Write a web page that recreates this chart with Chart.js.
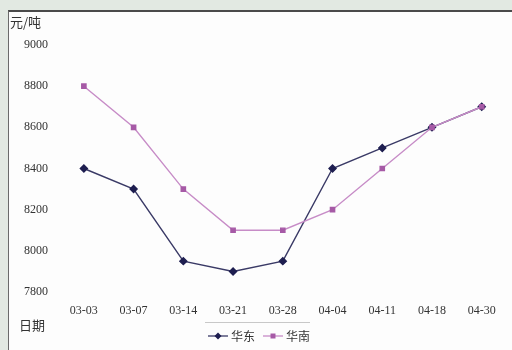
<!DOCTYPE html>
<html>
<head>
<meta charset="utf-8">
<script src="https://cdn.jsdelivr.net/npm/chart.js@4/dist/chart.umd.min.js"></script>
<style>
    html, body { margin: 0; padding: 0; }
    body { width: 512px; height: 350px; background: #e2e9e2; position: relative; overflow: hidden; }
    .panel {
        position: absolute; left: 8px; top: 10px; width: 504px; height: 340px;
        background: #fdfdfd; border-top: 2px solid #4a4a4a; border-left: 1px solid #6a6a6a;
        box-sizing: border-box;
    }
    #chart { position: absolute; left: 0; top: 0; }
</style>
</head>
<body>
<div class="panel"></div>
<canvas id="chart" width="512" height="350"></canvas>
<script>
document.addEventListener("DOMContentLoaded", function () {

    const dates = ["03-03", "03-07", "03-14", "03-21", "03-28", "04-04", "04-11", "04-18", "04-30"];
    const eastChina = [8400, 8300, 7950, 7900, 7950, 8400, 8500, 8600, 8700];
    const southChina = [8800, 8600, 8300, 8100, 8100, 8200, 8400, 8600, 8700];
    const seriesNames = ["华东", "华南"];
    const yMin = 7800;
    const yMax = 9000;
    const yStep = 200;

    const serif = "'Liberation Serif', 'DejaVu Serif', serif";
    const cjk = "'Noto Sans CJK SC', sans-serif";

    // axis captions and the line+marker legend under the chart
    const extras = {
        id: "extras",
        afterDraw(chart) {
            const ctx = chart.ctx;
            ctx.save();
            ctx.fillStyle = "#333";
            ctx.font = "13px " + cjk;
            ctx.textBaseline = "middle";
            ctx.textAlign = "left";
            ctx.fillText("元/吨", 10, 22);
            ctx.fillText("日期", 19, 325);

            ctx.strokeStyle = "#c8c8c8";
            ctx.lineWidth = 1;
            ctx.beginPath();
            ctx.moveTo(205, 322.5);
            ctx.lineTo(310, 322.5);
            ctx.stroke();

            let x = 208;
            const y = 336;
            chart.data.datasets.forEach(ds => {
                ctx.strokeStyle = ds.borderColor;
                ctx.lineWidth = 1.3;
                ctx.beginPath();
                ctx.moveTo(x, y);
                ctx.lineTo(x + 20, y);
                ctx.stroke();
                ctx.fillStyle = ds.pointBackgroundColor;
                ctx.beginPath();
                if (ds.pointStyle === "rectRot") {
                    ctx.moveTo(x + 10, y - 3.5);
                    ctx.lineTo(x + 13.5, y);
                    ctx.lineTo(x + 10, y + 3.5);
                    ctx.lineTo(x + 6.5, y);
                    ctx.closePath();
                } else {
                    ctx.rect(x + 7.5, y - 2.5, 5, 5);
                }
                ctx.fill();
                ctx.fillStyle = "#333";
                ctx.font = "12px " + cjk;
                ctx.fillText(ds.label, x + 23, y);
                x += 23 + ctx.measureText(ds.label).width + 8;
            });
            ctx.restore();
        }
    };

    new Chart(document.getElementById("chart"), {
        type: "line",
        data: {
            labels: dates,
            datasets: [
                {
                    label: seriesNames[0],
                    data: eastChina,
                    order: 1,
                    borderColor: "#3a3a66",
                    pointBackgroundColor: "#1e1e50",
                    pointBorderColor: "#1e1e50",
                    pointStyle: "rectRot",
                    pointRadius: 3.5,
                    borderWidth: 1.4,
                    tension: 0
                },
                {
                    label: seriesNames[1],
                    data: southChina,
                    order: 0,
                    borderColor: "#c78cc7",
                    pointBackgroundColor: "#a65aa6",
                    pointBorderColor: "#a65aa6",
                    pointStyle: "rect",
                    pointRadius: 3,
                    borderWidth: 1.4,
                    tension: 0
                }
            ]
        },
        options: {
            responsive: false,
            animation: false,
            layout: { padding: { left: 0, top: 45, right: 2, bottom: 0 } },
            plugins: {
                legend: { display: false },
                tooltip: { enabled: false }
            },
            scales: {
                x: {
                    offset: true,
                    grid: { display: false },
                    border: { display: false },
                    ticks: { color: "#333", font: { family: serif, size: 12 }, padding: 4, maxRotation: 0 },
                    afterFit: s => { s.height = 58; }
                },
                y: {
                    min: yMin,
                    max: yMax,
                    grid: { display: false },
                    border: { display: false },
                    ticks: {
                        stepSize: yStep,
                        color: "#333",
                        font: { family: serif, size: 12 },
                        padding: 3,
                        callback: v => String(v)
                    },
                    afterFit: s => { s.width = 59; }
                }
            }
        },
        plugins: [extras]
    });

});
</script>
</body>
</html>
